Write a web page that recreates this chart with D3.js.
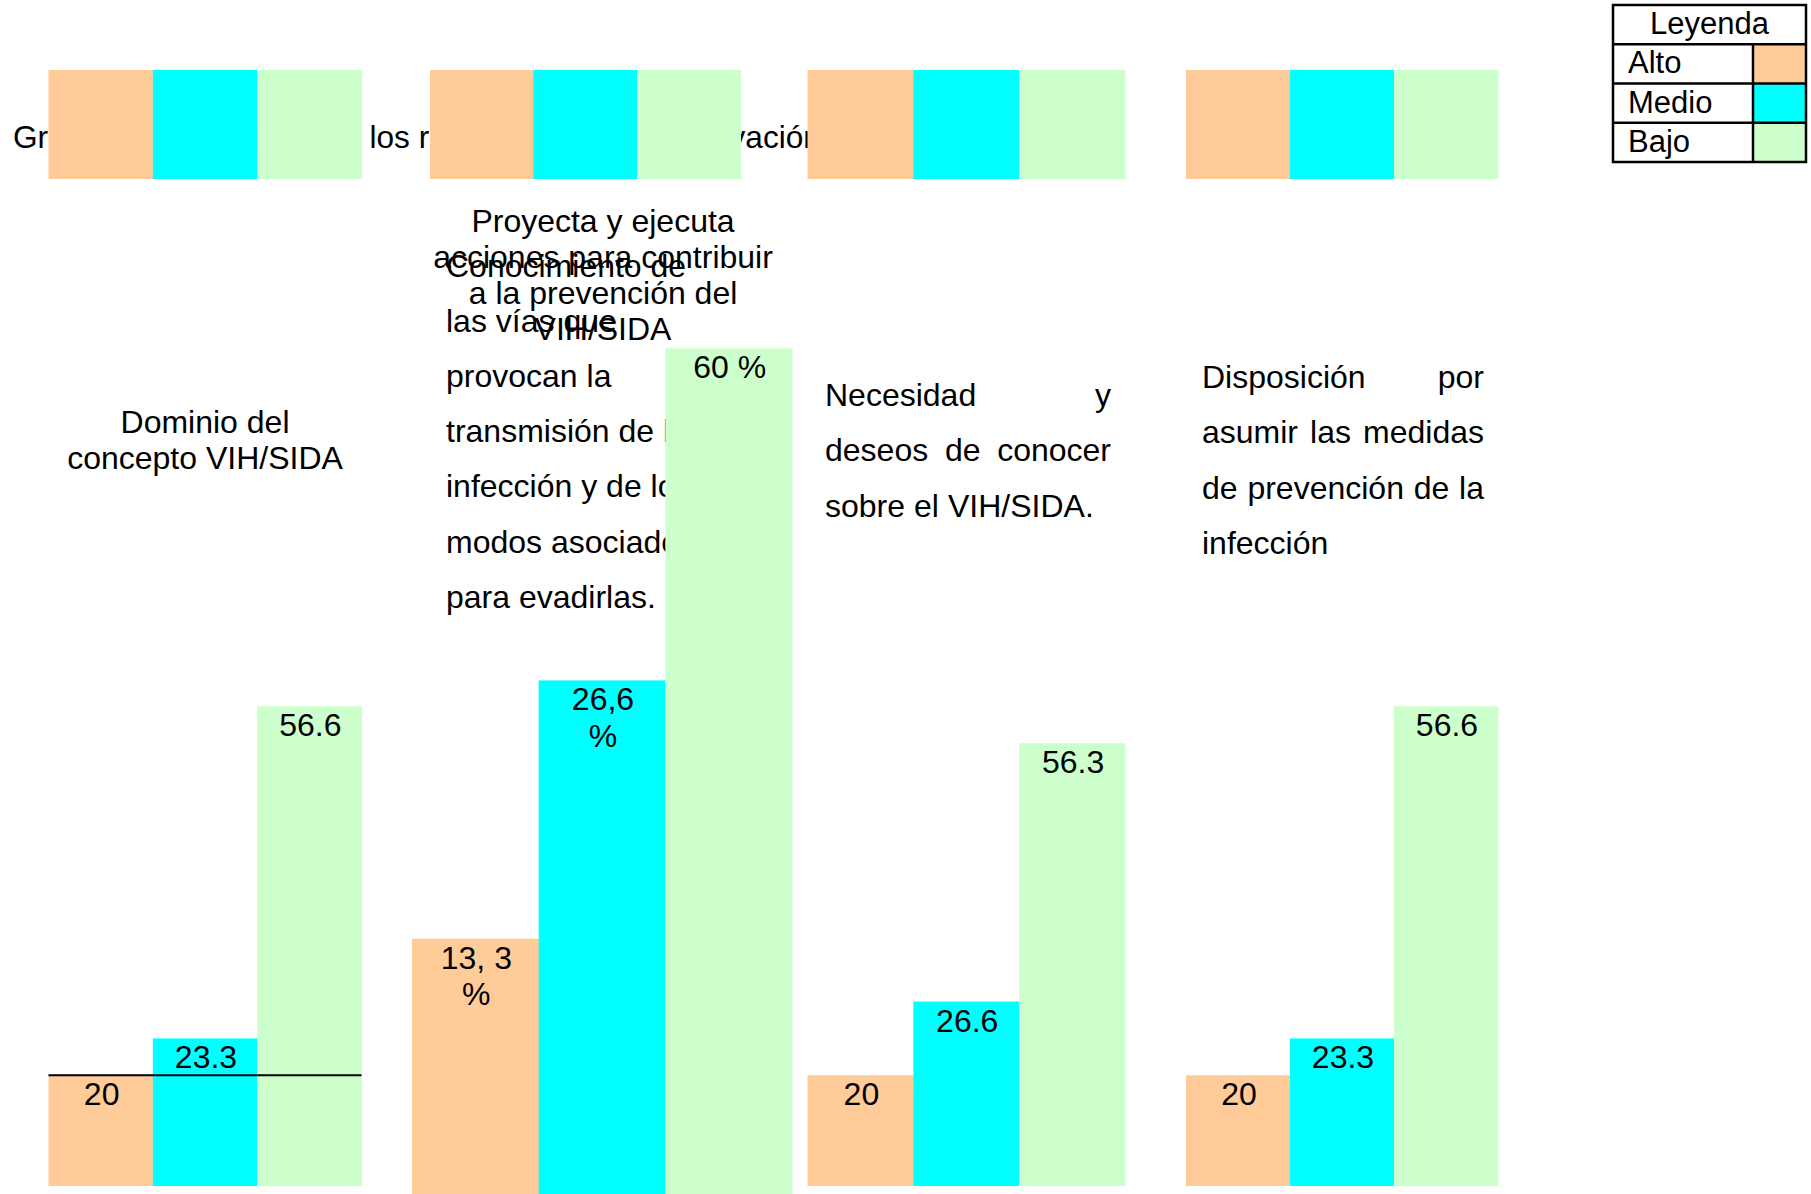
<!DOCTYPE html>
<html>
<head>
<meta charset="utf-8">
<script src="https://cdn.jsdelivr.net/npm/d3@7"></script>
<style>
  body { margin: 0; background: #fff; overflow: hidden; }
  text { font-family: "Liberation Sans", Arial, sans-serif; fill: #000; }
</style>
</head>
<body>
<div id="chart"></div>
<script>
// series and values
var series = ["Alto", "Medio", "Bajo"];
var colores = ["#FFCC99", "#00FFFF", "#CCFFCC"];

var alto = [20, 13.3, 20, 20];
var medio = [23.3, 26.6, 26.6, 23.3];
var bajo = [56.6, 60, 56.3, 56.6];

// labels as written on the bars ("|" = line break)
var etiquetasAlto = ["20", "13, 3|%", "20", "20"];
var etiquetasMedio = ["23.3", "26,6|%", "26.6", "23.3"];
var etiquetasBajo = ["56.6", "60 %", "56.3", "56.6"];

// bar heights as drawn, counted in squares of the drawing grid
// (the drawing is not to scale, so they don't follow the values)
var celdasAlto = [3, 7, 3, 3];
var celdasMedio = [4, 14, 5, 4];
var celdasBajo = [13, 23, 12, 13];

var titulo = "Gráfico 1. Resultados de los resultados de la observación";

var textoGrupo1 = ["Dominio del", "concepto VIH/SIDA"];
var textoGrupo2a = ["Proyecta y ejecuta", "acciones para contribuir", "a la prevención del", "VIH/SIDA"];
var textoGrupo2b = ["Conocimiento de", "las vías que", "provocan la", "transmisión de la",
                    "infección y de los", "modos asociados", "para evadirlas."];
var textoGrupo3 = ["Necesidad y", "deseos de conocer", "sobre el VIH/SIDA."];
var textoGrupo4 = ["Disposición por", "asumir las medidas", "de prevención de la", "infección"];

var leyenda = ["Leyenda"].concat(series);

// layout
var width = 1811, height = 1194;
var celda = 36.9;
var gruposX = [[48.5, 361.5], [412, 792], [807.5, 1125], [1186, 1498]];
var basesY = [1186, 1197, 1186, 1186];
var franjaX = [[48.5, 361.5], [430, 740.5], [807.5, 1125], [1186, 1498]];
var franjaY = [70, 179];

var svg = d3.select("#chart")
  .append("svg")
    .attr("width", width)
    .attr("height", height);

// title, mostly hidden behind the strip of bars
svg.append("text")
  .attr("x", 13)
  .attr("y", 148)
  .attr("font-size", 31.6)
  .text(titulo);

// top strip
franjaX.forEach(function(r) {
  var x = d3.scaleBand().domain(series).range(r);
  svg.append("g").selectAll("rect")
    .data(series)
    .enter()
    .append("rect")
    .attr("x", function(d) { return x(d); })
    .attr("y", franjaY[0])
    .attr("width", x.bandwidth() + 0.5)
    .attr("height", franjaY[1] - franjaY[0])
    .attr("fill", function(d, j) { return colores[j]; });
});

// plain text blocks
function bloque(lineas, x, y0, paso, anchor) {
  var g = svg.append("g");
  lineas.forEach(function(l, i) {
    g.append("text")
      .attr("x", x)
      .attr("y", y0 + i * paso)
      .attr("font-size", 32)
      .attr("text-anchor", anchor)
      .text(l);
  });
}

// justified text: words spread between x0 and x1, last line left aligned
function justificado(lineas, x0, x1, y0, paso) {
  var g = svg.append("g");
  lineas.forEach(function(l, i) {
    var t = g.append("text").attr("y", y0 + i * paso).attr("font-size", 32);
    var palabras = l.split(" ");
    var spans = palabras.map(function(p) { return t.append("tspan").text(p); });
    var anchos = spans.map(function(s) { return s.node().getComputedTextLength(); });
    var hueco = (i === lineas.length - 1 || palabras.length < 2)
      ? 9 : (x1 - x0 - d3.sum(anchos)) / (palabras.length - 1);
    var x = x0;
    spans.forEach(function(s, k) { s.attr("x", x); x += anchos[k] + hueco; });
  });
}

bloque(textoGrupo1, 205, 433, 35.5, "middle");
bloque(textoGrupo2b, 446, 277, 55.1, "start");
bloque(textoGrupo2a, 603, 232, 36, "middle");
justificado(textoGrupo3, 825, 1111, 406, 55.4);
justificado(textoGrupo4, 1202, 1484, 388, 55.4);

// bars
var celdas = [celdasAlto, celdasMedio, celdasBajo];
var etiquetas = [etiquetasAlto, etiquetasMedio, etiquetasBajo];
var valores = [alto, medio, bajo];

gruposX.forEach(function(r, i) {
  var x = d3.scaleBand().domain(series).range(r);
  var y = d3.scaleLinear().domain([0, 1]).range([basesY[i], basesY[i] - celda]);
  var datos = series.map(function(s, j) {
    return { serie: s, valor: valores[j][i], celdas: celdas[j][i], etiqueta: etiquetas[j][i], color: colores[j] };
  });
  var g = svg.append("g");

  g.selectAll("rect")
    .data(datos)
    .enter()
    .append("rect")
    .attr("x", function(d) { return x(d.serie); })
    .attr("y", function(d) { return y(d.celdas); })
    .attr("width", x.bandwidth() + 0.5)
    .attr("height", function(d) { return y(0) - y(d.celdas); })
    .attr("fill", function(d) { return d.color; });

  g.selectAll("text")
    .data(datos)
    .enter()
    .append("text")
    .attr("text-anchor", "middle")
    .attr("font-size", 32)
    .attr("transform", function(d) {
      return "translate(" + (x(d.serie) + x.bandwidth() / 2 + 1) + "," + (y(d.celdas) + 30) + ")";
    })
    .selectAll("tspan")
    .data(function(d) { return d.etiqueta.split("|"); })
    .enter()
    .append("tspan")
    .attr("x", 0)
    .attr("y", function(d, k) { return k * 36.5; })
    .text(function(d) { return d; });

  // line over the first group at the top of the "Alto" bar
  if (i === 0) {
    g.append("line")
      .attr("x1", r[0]).attr("x2", r[1])
      .attr("y1", y(celdasAlto[0])).attr("y2", y(celdasAlto[0]))
      .attr("stroke", "#000")
      .attr("stroke-width", 2);
  }
});

// legend table
var ly = d3.scaleBand().domain(leyenda).range([5, 162]);
var lx = [1613, 1753, 1806];
var lg = svg.append("g");

lg.selectAll("rect.sw")
  .data(series)
  .enter()
  .append("rect")
  .attr("class", "sw")
  .attr("x", lx[1])
  .attr("y", function(d) { return ly(d); })
  .attr("width", lx[2] - lx[1])
  .attr("height", ly.bandwidth())
  .attr("fill", function(d, j) { return colores[j]; });

lg.append("rect")
  .attr("x", lx[0]).attr("y", ly.range()[0])
  .attr("width", lx[2] - lx[0]).attr("height", ly.range()[1] - ly.range()[0])
  .attr("fill", "none").attr("stroke", "#000").attr("stroke-width", 2.5);

lg.selectAll("line.row")
  .data(series)
  .enter()
  .append("line")
  .attr("class", "row")
  .attr("x1", lx[0]).attr("x2", lx[2])
  .attr("y1", function(d) { return ly(d); })
  .attr("y2", function(d) { return ly(d); })
  .attr("stroke", "#000").attr("stroke-width", 2.5);

lg.append("line")
  .attr("x1", lx[1]).attr("x2", lx[1])
  .attr("y1", ly(series[0])).attr("y2", ly.range()[1])
  .attr("stroke", "#000").attr("stroke-width", 2.5);

lg.selectAll("text")
  .data(leyenda)
  .enter()
  .append("text")
  .attr("x", function(d, i) { return i === 0 ? (lx[0] + lx[2]) / 2 : lx[0] + 15; })
  .attr("y", function(d) { return ly(d) + 29; })
  .attr("text-anchor", function(d, i) { return i === 0 ? "middle" : "start"; })
  .attr("font-size", 31)
  .text(function(d) { return d; });
</script>
</body>
</html>
